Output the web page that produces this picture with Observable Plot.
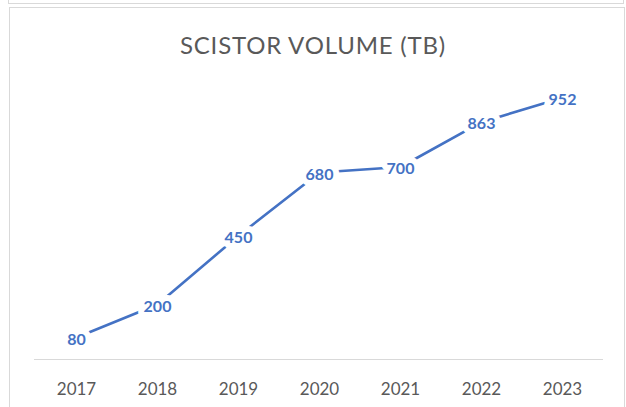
<!DOCTYPE html>
<html>
<head>
<meta charset="utf-8">
<script src="https://cdn.jsdelivr.net/npm/d3@7"></script>
<script src="https://cdn.jsdelivr.net/npm/@observablehq/plot@0.6"></script>
<style>
  html, body { margin: 0; padding: 0; background: #fff; }
  #wrap { position: relative; width: 626px; height: 407px; overflow: hidden; }
  #prev { position: absolute; left: 8px; top: -10px; width: 614px; height: 13px; border: 1px solid #d9d9d9; border-top: none; }
  #box { position: absolute; left: 9px; top: 7px; width: 614px; height: 420px; border: 1px solid #d9d9d9; }
  #title { position: absolute; left: 0; width: 626px; top: 30px; text-align: center;
           font-family: Lato, "Open Sans", sans-serif; font-size: 24px; letter-spacing: 0.8px;
           color: #595959; font-weight: 400; }
  #chart { position: absolute; left: 0; top: 0; }
</style>
</head>
<body>
<div id="wrap">
  <div id="prev"></div>
  <div id="box"></div>
  <div id="chart"></div>
  <div id="title">SCISTOR VOLUME (TB)</div>
</div>
<script>
const years = ["2017", "2018", "2019", "2020", "2021", "2022", "2023"];
const volumes = [80, 200, 450, 680, 700, 863, 952];

const data = years.map((y, i) => ({year: y, value: volumes[i]}));

const chart = Plot.plot({
  width: 626,
  height: 407,
  marginLeft: 34,
  marginRight: 23,
  marginTop: 84,
  marginBottom: 48,
  style: {fontFamily: "Lato, 'Open Sans', sans-serif", background: "transparent", overflow: "visible"},
  x: {type: "point", domain: years, padding: 0.5, label: null},
  y: {domain: [0, 1000], axis: null},
  marks: [
    Plot.ruleY([0], {stroke: "#d9d9d9", strokeWidth: 1.2}),
    Plot.axisX({tickSize: 0, tickPadding: 23, fontSize: 17, color: "#595959", label: null}),
    Plot.line(data, {x: "year", y: "value", stroke: "#4472C4", strokeWidth: 2.6}),
    Plot.text(data, {x: "year", y: "value", dy: 2, text: d => String(d.value), fill: "#4472C4",
      stroke: "white", strokeWidth: 12, fontWeight: "bold", fontSize: 16})
  ]
});
document.getElementById("chart").appendChild(chart);
</script>
</body>
</html>
